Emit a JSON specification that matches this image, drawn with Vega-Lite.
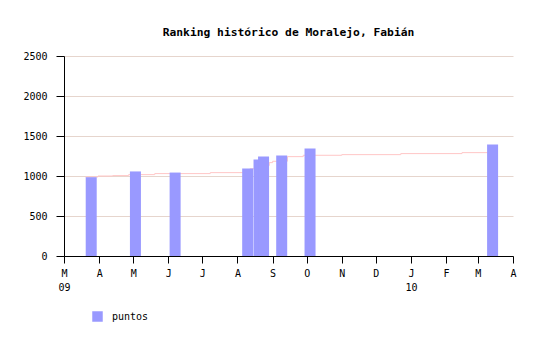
{
  "$schema": "https://vega.github.io/schema/vega-lite/v6.json",
  "width": 449,
  "height": 200,
  "autosize": {"type": "none"},
  "padding": {"left": 64, "top": 56, "right": 27, "bottom": 84},
  "background": "#ffffff",
  "title": {
    "text": "Ranking histórico de Moralejo, Fabián",
    "font": "DejaVu Sans Mono",
    "fontSize": 11.3,
    "fontWeight": "bold",
    "color": "#000000",
    "offset": 13,
    "anchor": "middle"
  },
  "config": {
    "view": {"stroke": null},
    "axis": {
      "labelFont": "DejaVu Sans Mono",
      "labelFontSize": 10,
      "labelColor": "#000000",
      "domainColor": "#000000",
      "tickColor": "#000000",
      "title": null
    },
    "legend": {
      "labelFont": "DejaVu Sans Mono",
      "labelFontSize": 10,
      "labelColor": "#000000"
    }
  },
  "datasets": {
    "puntos": [
      {"fecha": "2009-03-25", "puntos": 985},
      {"fecha": "2009-05-03", "puntos": 1057},
      {"fecha": "2009-06-07", "puntos": 1043},
      {"fecha": "2009-08-10", "puntos": 1094},
      {"fecha": "2009-08-20", "puntos": 1207},
      {"fecha": "2009-08-24", "puntos": 1244},
      {"fecha": "2009-09-09", "puntos": 1256},
      {"fecha": "2009-10-04", "puntos": 1343},
      {"fecha": "2010-03-14", "puntos": 1393}
    ],
    "ranking": [
      {"fecha": "2009-03-20", "puntos": 988},
      {"fecha": "2009-03-31", "puntos": 1000},
      {"fecha": "2009-04-13", "puntos": 1005},
      {"fecha": "2009-04-27", "puntos": 1017},
      {"fecha": "2009-05-20", "puntos": 1030},
      {"fecha": "2009-07-08", "puntos": 1042},
      {"fecha": "2009-08-12", "puntos": 1090},
      {"fecha": "2009-08-21", "puntos": 1130},
      {"fecha": "2009-08-29", "puntos": 1167},
      {"fecha": "2009-09-01", "puntos": 1184},
      {"fecha": "2009-09-14", "puntos": 1242},
      {"fecha": "2009-09-28", "puntos": 1259},
      {"fecha": "2009-11-01", "puntos": 1267},
      {"fecha": "2009-12-23", "puntos": 1280},
      {"fecha": "2010-02-15", "puntos": 1292},
      {"fecha": "2010-03-15", "puntos": 1292}
    ]
  },
  "encoding": {
    "x": {
      "field": "fecha",
      "type": "temporal",
      "scale": {
        "type": "utc",
        "padding": 0,
        "domain": [
          {"year": 2009, "month": 3, "date": 1, "utc": true},
          {"year": 2010, "month": 4, "date": 1, "utc": true}
        ]
      },
      "axis": {
        "values": [
          {"year": 2009, "month": 3, "date": 1, "utc": true},
          {"year": 2009, "month": 4, "date": 1, "utc": true},
          {"year": 2009, "month": 5, "date": 1, "utc": true},
          {"year": 2009, "month": 6, "date": 1, "utc": true},
          {"year": 2009, "month": 7, "date": 1, "utc": true},
          {"year": 2009, "month": 8, "date": 1, "utc": true},
          {"year": 2009, "month": 9, "date": 1, "utc": true},
          {"year": 2009, "month": 10, "date": 1, "utc": true},
          {"year": 2009, "month": 11, "date": 1, "utc": true},
          {"year": 2009, "month": 12, "date": 1, "utc": true},
          {"year": 2010, "month": 1, "date": 1, "utc": true},
          {"year": 2010, "month": 2, "date": 1, "utc": true},
          {"year": 2010, "month": 3, "date": 1, "utc": true},
          {"year": 2010, "month": 4, "date": 1, "utc": true}
        ],
        "labelExpr": "(utcmonth(datum.value) == 0 || (utcyear(datum.value) == 2009 && utcmonth(datum.value) == 2)) ? [substring(utcFormat(datum.value, '%b'), 0, 1), utcFormat(datum.value, '%y')] : substring(utcFormat(datum.value, '%b'), 0, 1)",
        "labelAlign": "center",
        "labelOverlap": false,
        "labelFlush": false,
        "labelLineHeight": 14,
        "tickSize": 7,
        "labelPadding": 5,
        "grid": false,
        "domain": true
      }
    },
    "y": {
      "field": "puntos",
      "type": "quantitative",
      "scale": {"domain": [0, 2500], "nice": false, "zero": true},
      "axis": {
        "values": [0, 500, 1000, 1500, 2000, 2500],
        "format": "d",
        "tickSize": 8,
        "labelPadding": 9,
        "labelOverlap": false,
        "labelFlush": false,
        "grid": true,
        "gridColor": "#e6d5cd",
        "gridOpacity": 1
      }
    }
  },
  "layer": [
    {
      "data": {"name": "ranking"},
      "mark": {"type": "line", "interpolate": "step-after", "color": "#ffc6c6", "strokeWidth": 1},
      "encoding": {}
    },
    {
      "data": {"name": "puntos"},
      "mark": {"type": "bar", "size": 11},
      "encoding": {
        "color": {
          "datum": "puntos",
          "type": "nominal",
          "scale": {"range": ["#9999ff"]},
          "legend": {
            "title": null,
            "orient": "none",
            "legendX": 28,
            "legendY": 255,
            "symbolType": "square",
            "symbolSize": 110,
            "symbolStrokeWidth": 0,
            "symbolOpacity": 1,
            "labelOffset": 9,
            "padding": 0
          }
        }
      }
    }
  ]
}
